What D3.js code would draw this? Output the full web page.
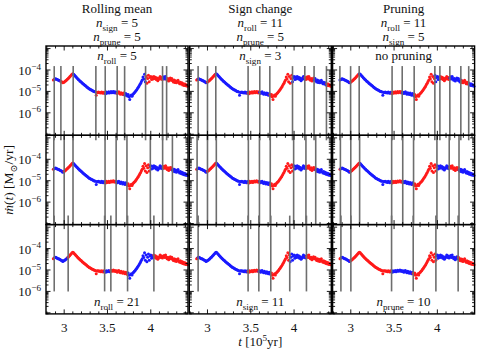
<!DOCTYPE html>
<html>
<head>
<meta charset="utf-8">
<script src="https://cdn.jsdelivr.net/npm/d3@7"></script>
<style>
body { margin: 0; background: #fff; }
svg { display: block; font-family: "Liberation Serif", "DejaVu Serif", serif; }
</style>
</head>
<body>
<div id="chart"></div>
<script>
// --- data ---
// time in 10^5 yr, log10 of accretion rate in Msun/yr
const times = [
  2.875, 2.884, 2.893, 2.902, 2.911, 2.920, 2.929, 2.938, 2.947, 2.956,
  2.965, 2.974, 2.983, 2.992, 3.001, 3.010, 3.019, 3.028, 3.037, 3.046,
  3.055, 3.064, 3.073, 3.082, 3.091, 3.100, 3.109, 3.118, 3.127, 3.136,
  3.145, 3.154, 3.163, 3.172, 3.181, 3.190, 3.199, 3.208, 3.217, 3.226,
  3.235, 3.244, 3.253, 3.262, 3.271, 3.280, 3.289, 3.298, 3.307, 3.316,
  3.325, 3.334, 3.343, 3.352, 3.361, 3.370, 3.379, 3.388, 3.397, 3.406,
  3.415, 3.424, 3.433, 3.442, 3.451, 3.460, 3.469, 3.478, 3.487, 3.496,
  3.505, 3.514, 3.523, 3.532, 3.541, 3.550, 3.559, 3.568, 3.577, 3.586,
  3.595, 3.604, 3.613, 3.622, 3.631, 3.640, 3.649, 3.658, 3.667, 3.676,
  3.685, 3.694, 3.703, 3.712, 3.721, 3.730, 3.739, 3.748, 3.757, 3.766,
  3.775, 3.784, 3.793, 3.802, 3.811, 3.820, 3.829, 3.838, 3.847, 3.856,
  3.865, 3.874, 3.883, 3.892, 3.901, 3.910, 3.919, 3.928, 3.937, 3.946,
  3.955, 3.964, 3.973, 3.982, 3.991, 4.000, 4.009, 4.018, 4.027, 4.036,
  4.045, 4.054, 4.063, 4.072, 4.081, 4.090, 4.099, 4.108, 4.117, 4.126,
  4.135, 4.144, 4.153, 4.162, 4.171, 4.180, 4.189, 4.198, 4.207, 4.216,
  4.225, 4.234, 4.243, 4.252, 4.261, 4.270, 4.279, 4.288, 4.297, 4.306,
  4.315, 4.324, 4.333, 4.342, 4.351, 4.360, 4.369, 4.378, 4.387, 4.396,
  4.405, 4.414, 4.423
];
const logMdot = [
  -4.47, -4.44, -4.42, -4.41, -4.43, -4.45, -4.47, -4.48, -4.50, -4.52,
  -4.54, -4.56, -4.60, -4.58, -4.56, -4.53, -4.50, -4.47, -4.43, -4.40,
  -4.36, -4.32, -4.28, -4.24, -4.20, -4.17, -4.20, -4.24, -4.28, -4.32,
  -4.36, -4.40, -4.44, -4.47, -4.51, -4.54, -4.57, -4.61, -4.64, -4.67,
  -4.70, -4.73, -4.76, -4.79, -4.82, -4.85, -4.88, -4.90, -4.92, -4.94,
  -4.96, -4.98, -5.00, -5.01, -5.03, -5.18, -5.04, -5.05, -5.03, -5.06,
  -5.05, -5.08, -5.03, -5.06, -5.09, -5.04, -5.07, -5.11, -5.03, -5.08,
  -5.06, -5.02, -5.08, -5.05, -5.01, -5.06, -5.03, -5.00, -5.06, -5.02,
  -5.07, -5.04, -5.10, -5.05, -5.02, -5.09, -5.13, -5.06, -5.10, -5.15,
  -5.08, -5.13, -5.18, -5.10, -5.15, -5.21, -5.14, -5.25, -5.38, -5.22,
  -5.17, -5.23, -5.14, -5.10, -5.06, -5.02, -4.97, -4.92, -4.86, -4.81,
  -4.75, -4.68, -4.62, -4.54, -4.47, -4.33, -4.42, -4.20, -4.55, -4.30,
  -4.62, -4.40, -4.25, -4.55, -4.35, -4.30, -4.45, -4.33, -4.42, -4.30,
  -4.40, -4.34, -4.45, -4.38, -4.50, -4.44, -4.38, -4.30, -4.42, -4.35,
  -4.44, -4.38, -4.32, -4.42, -4.30, -4.40, -4.48, -4.40, -4.52, -4.45,
  -4.38, -4.48, -4.40, -4.50, -4.56, -4.47, -4.58, -4.50, -4.60, -4.54,
  -4.48, -4.58, -4.64, -4.57, -4.66, -4.60, -4.70, -4.64, -4.72, -4.66,
  -4.74, -4.70, -4.76
];

const colTitles = ["Rolling mean", "Sign change", "Pruning"];
// fixed parameters shown under each column title: [subscript, value]
const colParams = [
  [["sign", "5"], ["prune", "5"]],
  [["roll", "11"], ["prune", "5"]],
  [["roll", "11"], ["sign", "5"]]
];
// varied parameter written inside top and bottom rows (middle row = defaults)
const topNotes = [["roll", "5"], ["sign", "3"], null];
const bottomNotes = [["roll", "21"], ["sign", "11"], ["prune", "10"]];

// detected change points per panel (row, then column); colours alternate between them
const changePoints = [
  [
    [2.885, 2.962, 3.104, 3.366, 3.474, 3.612, 3.698, 3.940, 4.136, 4.183],
    [2.892, 3.000, 3.096, 3.469, 3.604, 3.720, 3.982, 4.124, 4.231, 4.374],
    [2.874, 2.998, 3.097, 3.477, 3.594, 3.732, 3.971, 4.029, 4.144, 4.271, 4.362]
  ],
  [
    [2.880, 3.000, 3.102, 3.472, 3.600, 3.725, 3.995, 4.137, 4.250],
    [2.880, 3.000, 3.102, 3.472, 3.600, 3.725, 3.995, 4.137, 4.250],
    [2.880, 3.000, 3.102, 3.472, 3.600, 3.725, 3.995, 4.137, 4.250]
  ],
  [
    [2.885, 3.046, 3.467, 3.539, 3.732, 4.036],
    [2.892, 3.469, 3.593, 3.731, 3.950, 4.143],
    [2.886, 3.001, 3.471, 3.721, 3.983, 4.240]
  ]
];

const xMajor = [3, 3.5, 4];
const xMinor = [2.8, 2.9, 3.1, 3.2, 3.3, 3.4, 3.6, 3.7, 3.8, 3.9, 4.1, 4.2, 4.3, 4.4];
const yLabelDecades = [-4, -5, -6];

// --- layout ---
const width = 479, height = 352;
const marginLeft = 46, marginTop = 46;
const panelW = 142, colStep = 143.3, panelH = 89.3;
const segColors = ["#ff1a1a", "#1a1aff"];

const svg = d3.select("#chart").append("svg")
  .attr("width", width)
  .attr("height", height);

const x = d3.scaleLinear().domain([2.79, 4.43]).range([0, panelW]);
const y = d3.scaleLog().domain([Math.pow(10, -7.05), Math.pow(10, -2.88)]).range([panelH, 0]);

const points = times.map((t, i) => ({ t, m: Math.pow(10, logMdot[i]) }));

// small helper for matplotlib-like math text
function rich(sel, parts, size) {
  const text = sel.append("text").attr("font-size", size).attr("fill", "#111");
  let shift = 0;
  parts.forEach(([s, kind]) => {
    const ts = text.append("tspan").text(s);
    const target = kind === "sub" ? size * 0.28 : kind === "sup" ? -size * 0.42 : 0;
    if (target - shift !== 0) ts.attr("dy", target - shift);
    shift = target;
    if (kind === "sub" || kind === "sup") ts.attr("font-size", size * 0.7);
    if (kind === "it") ts.attr("font-style", "italic");
  });
  return text;
}
const nParts = p => [["n", "it"], [p[0], "sub"], [" = " + p[1], "rm"]];

const yTicks = y.ticks().filter(v => v >= y.domain()[0] && v <= y.domain()[1]);
const isMajor = v => Math.abs(Math.log10(v) - Math.round(Math.log10(v))) < 1e-6;

for (let r = 0; r < 3; r++) {
  for (let c = 0; c < 3; c++) {
    const g = svg.append("g")
      .attr("transform", `translate(${marginLeft + c * colStep},${marginTop + r * panelH})`);

    // colour each point by which segment it falls in
    const cps = changePoints[r][c];
    g.append("g").selectAll("circle")
      .data(points)
      .join("circle")
      .attr("cx", d => x(d.t))
      .attr("cy", d => y(d.m))
      .attr("r", 1.5)
      .attr("fill", d => segColors[d3.bisectRight(cps, d.t) % 2]);

    // vertical change-point lines
    let y0 = 0, y1 = panelH;
    if (r === 0) { y0 = panelH * 0.225; y1 = panelH + 5; }
    if (r === 2) { y0 = -9; y1 = y(1e-6); }
    g.append("g").selectAll("line")
      .data(cps)
      .join("line")
      .attr("x1", d => x(d)).attr("x2", d => x(d))
      .attr("y1", y0).attr("y2", y1)
      .attr("stroke", "#6e6e6e")
      .attr("stroke-width", 1.6);

    // frame
    g.append("rect")
      .attr("width", panelW).attr("height", panelH)
      .attr("fill", "none").attr("stroke", "#000").attr("stroke-width", 1.4);

    // inward ticks on all four sides
    const tk = g.append("g").attr("stroke", "#000").attr("stroke-width", 0.9);
    yTicks.forEach(v => {
      const len = isMajor(v) ? 4.5 : 2.5;
      tk.append("line").attr("x1", 0).attr("x2", len).attr("y1", y(v)).attr("y2", y(v));
      tk.append("line").attr("x1", panelW).attr("x2", panelW - len).attr("y1", y(v)).attr("y2", y(v));
    });
    xMajor.concat(xMinor).forEach(v => {
      const len = xMajor.includes(v) ? 4.5 : 2.5;
      tk.append("line").attr("x1", x(v)).attr("x2", x(v)).attr("y1", panelH).attr("y2", panelH - len);
      tk.append("line").attr("x1", x(v)).attr("x2", x(v)).attr("y1", 0).attr("y2", len);
    });

    // tick labels
    if (c === 0) {
      yLabelDecades.forEach(d => {
        rich(g, [["10", "rm"], ["\u2212" + (-d), "sup"]], 13)
          .attr("text-anchor", "end")
          .attr("x", -5)
          .attr("y", y(Math.pow(10, d)) + 5);
      });
    }
    if (r === 2) {
      xMajor.forEach(v => {
        g.append("text")
          .attr("font-size", 13).attr("fill", "#111")
          .attr("text-anchor", "middle")
          .attr("x", x(v)).attr("y", panelH + 18)
          .text(v);
      });
    }

    // notes inside panels
    const cx = panelW / 2;
    if (r === 0) {
      const note = topNotes[c]
        ? rich(g, nParts(topNotes[c]), 13)
        : g.append("text").attr("font-size", 13).attr("fill", "#111").text("no pruning");
      note.attr("text-anchor", "middle").attr("x", cx).attr("y", 14);
    }
    if (r === 2) {
      rich(g, nParts(bottomNotes[c]), 13)
        .attr("text-anchor", "middle").attr("x", cx).attr("y", panelH - 8);
    }
  }
}

// column titles
for (let c = 0; c < 3; c++) {
  const cx = marginLeft + c * colStep + panelW / 2;
  svg.append("text")
    .attr("font-size", 13).attr("fill", "#111")
    .attr("text-anchor", "middle")
    .attr("x", cx).attr("y", 13)
    .text(colTitles[c]);
  colParams[c].forEach((p, i) => {
    rich(svg, nParts(p), 13)
      .attr("text-anchor", "middle")
      .attr("x", cx).attr("y", 27 + i * 14);
  });
}

// axis titles
rich(svg, [["\u1E41", "it"], ["(", "rm"], ["t", "it"], [") [M", "rm"], ["\u2299", "sub"], ["/yr]", "rm"]], 13.5)
  .attr("text-anchor", "middle")
  .attr("transform", `translate(13,${marginTop + 1.5 * panelH}) rotate(-90)`);

rich(svg, [["t", "it"], [" [10", "rm"], ["5", "sup"], ["yr]", "rm"]], 13)
  .attr("text-anchor", "middle")
  .attr("x", marginLeft + colStep + panelW / 2)
  .attr("y", 346);
</script>
</body>
</html>
